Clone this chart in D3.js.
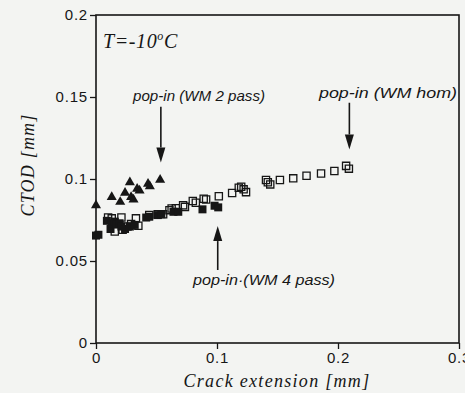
<!DOCTYPE html>
<html>
<head>
<meta charset="utf-8">
<script src="https://cdn.jsdelivr.net/npm/d3@7"></script>
<style>
  body { margin: 0; background: #f3f4f2; }
  svg { display: block; }
</style>
</head>
<body>
<div class="chart"></div>
<script>
const width = 465;
const height = 393;

// crack extension [mm], CTOD [mm]
const wm2pass = [
  [0.000, 0.084], [0.013, 0.089], [0.020, 0.086], [0.024, 0.0915],
  [0.028, 0.098], [0.029, 0.089], [0.031, 0.0875], [0.034, 0.094],
  [0.036, 0.093], [0.043, 0.097], [0.0445, 0.0955], [0.053, 0.0995]
];

const wm4pass = [
  [0.000, 0.0655], [0.002, 0.066], [0.009, 0.0745], [0.012, 0.0695],
  [0.013, 0.073], [0.0155, 0.074], [0.017, 0.0725], [0.0195, 0.073],
  [0.021, 0.071], [0.024, 0.0695], [0.028, 0.071], [0.032, 0.072],
  [0.0415, 0.0765], [0.044, 0.077], [0.051, 0.078], [0.054, 0.0785],
  [0.064, 0.080], [0.068, 0.080], [0.088, 0.0815], [0.098, 0.0837],
  [0.101, 0.0827]
];

const wmHom = [
  [0.010, 0.0765], [0.013, 0.076], [0.0155, 0.068], [0.021, 0.0765],
  [0.022, 0.069], [0.026, 0.071], [0.029, 0.0725], [0.033, 0.076],
  [0.035, 0.0715], [0.044, 0.078], [0.051, 0.0785], [0.0555, 0.0785],
  [0.0607, 0.081], [0.0625, 0.082], [0.066, 0.0822], [0.072, 0.084],
  [0.0735, 0.083], [0.080, 0.0866], [0.0825, 0.0855], [0.089, 0.088],
  [0.091, 0.0875], [0.1015, 0.0895], [0.1125, 0.0915], [0.118, 0.0947],
  [0.120, 0.0953], [0.122, 0.0937], [0.124, 0.092], [0.1405, 0.0994],
  [0.142, 0.098], [0.144, 0.0967], [0.152, 0.0994], [0.163, 0.1004],
  [0.174, 0.102], [0.186, 0.1034], [0.197, 0.1049], [0.2067, 0.108],
  [0.209, 0.1063]
];

const xTicks = [0, 0.1, 0.2, 0.3];
const xTickLabels = ["0", "0.1", "0.2", "0.3"];
const yTicks = [0, 0.05, 0.1, 0.15, 0.2];
const yTickLabels = ["0", "0.05", "0.1", "0.15", "0.2"];

// pop-in arrows: x, start y, tip y
const popins = [
  {label: "pop-in (WM 2 pass)", x: 0.0536, from: 0.1440, to: 0.1100},
  {label: "pop-in (WM hom)", x: 0.2094, from: 0.1465, to: 0.1180},
  {label: "pop-in\u00b7(WM 4 pass)", x: 0.1006, from: 0.0445, to: 0.0713}
];

const x = d3.scaleLinear().domain([0, 0.3]).range([96, 459]);
const y = d3.scaleLinear().domain([0, 0.2]).range([343, 15]);

const svg = d3.select(".chart").append("svg")
  .attr("width", width)
  .attr("height", height);

const ink = "#161616";

// frame
svg.append("rect")
  .attr("x", x(0)).attr("y", y(0.2))
  .attr("width", x(0.3) - x(0)).attr("height", y(0) - y(0.2))
  .attr("fill", "none").attr("stroke", ink).attr("stroke-width", 1.6);

const xAxis = svg.append("g")
  .attr("transform", `translate(0,${y(0)})`)
  .call(d3.axisBottom(x).tickValues(xTicks)
    .tickFormat((d, i) => xTickLabels[i]).tickSize(6).tickPadding(3));

const yAxis = svg.append("g")
  .attr("transform", `translate(${x(0)},0)`)
  .call(d3.axisLeft(y).tickValues(yTicks)
    .tickFormat((d, i) => yTickLabels[i]).tickSize(6).tickPadding(2));

[xAxis, yAxis].forEach(a => {
  a.select(".domain").remove();
  a.selectAll(".tick line").attr("stroke", ink).attr("stroke-width", 1.3);
  a.selectAll(".tick text")
    .attr("fill", ink)
    .style("font-family", "'Liberation Sans', Arial, sans-serif")
    .style("font-size", "15px")
    .style("letter-spacing", "0.8px");
});

// data marks
svg.append("g").selectAll("path")
  .data(wmHom).join("path")
  .attr("transform", d => `translate(${x(d[0])},${y(d[1])})`)
  .attr("d", d3.symbol(d3.symbolSquare, 52))
  .attr("fill", "none").attr("stroke", ink).attr("stroke-width", 1.3);

svg.append("g").selectAll("path")
  .data(wm4pass).join("path")
  .attr("transform", d => `translate(${x(d[0])},${y(d[1])})`)
  .attr("d", d3.symbol(d3.symbolSquare, 64))
  .attr("fill", ink);

svg.append("g").selectAll("path")
  .data(wm2pass).join("path")
  .attr("transform", d => `translate(${x(d[0])},${y(d[1])})`)
  .attr("d", d3.symbol(d3.symbolTriangle, 44))
  .attr("fill", ink);

// arrows
popins.forEach(p => {
  const dir = p.to < p.from ? 1 : -1; // 1 = pointing down
  const tipY = y(p.to);
  const headLen = 15, headW = 4.5;
  svg.append("line")
    .attr("x1", x(p.x)).attr("x2", x(p.x))
    .attr("y1", y(p.from)).attr("y2", tipY - dir * headLen)
    .attr("stroke", ink).attr("stroke-width", 1.6);
  svg.append("path")
    .attr("d", `M${x(p.x)},${tipY} L${x(p.x) - headW},${tipY - dir * headLen} L${x(p.x) + headW},${tipY - dir * headLen} Z`)
    .attr("fill", ink);
});

// pop-in labels
const labelPos = [
  {x: 133, y: 101, len: 132},
  {x: 319, y: 98, len: 138},
  {x: 193, y: 285, len: 142}
];
popins.forEach((p, i) => {
  svg.append("text")
    .attr("x", labelPos[i].x).attr("y", labelPos[i].y)
    .attr("textLength", labelPos[i].len)
    .attr("lengthAdjust", "spacingAndGlyphs")
    .attr("fill", ink)
    .style("font-family", "'Liberation Sans', Arial, sans-serif")
    .style("font-style", "italic")
    .style("font-size", "15px")
    .text(p.label);
});

// temperature
const t = svg.append("text")
  .attr("x", 103).attr("y", 48)
  .attr("fill", ink)
  .style("font-family", "'Liberation Serif', 'Times New Roman', serif")
  .style("font-style", "italic")
  .style("font-size", "20px")
  .style("letter-spacing", "0.6px");
t.append("tspan").text("T=-10");
t.append("tspan").attr("dy", -8).style("font-size", "12px").text("o");
t.append("tspan").attr("dy", 8).text("C");

// axis titles
svg.append("text")
  .attr("x", 277).attr("y", 387)
  .attr("text-anchor", "middle")
  .attr("fill", ink)
  .style("font-family", "'Liberation Serif', 'Times New Roman', serif")
  .style("font-style", "italic")
  .style("font-size", "18px")
  .style("letter-spacing", "1.3px")
  .text("Crack extension [mm]");

svg.append("text")
  .attr("transform", "translate(34,165) rotate(-90)")
  .attr("text-anchor", "middle")
  .attr("fill", ink)
  .style("font-family", "'Liberation Serif', 'Times New Roman', serif")
  .style("font-style", "italic")
  .style("font-size", "18px")
  .style("letter-spacing", "1.2px")
  .text("CTOD [mm]");
</script>
</body>
</html>
